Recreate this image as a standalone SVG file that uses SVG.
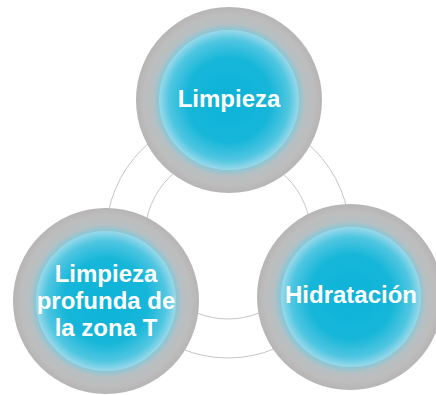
<svg xmlns="http://www.w3.org/2000/svg" width="436" height="395" viewBox="0 0 436 395">
  <defs>
    <radialGradient id="ring" cx="0.5" cy="0.5" r="0.5">
      <stop offset="0" stop-color="#3fbcd8"/>
      <stop offset="0.73" stop-color="#7cc8da"/>
      <stop offset="0.82" stop-color="#b6c0c3"/>
      <stop offset="0.92" stop-color="#bebdbd"/>
      <stop offset="1" stop-color="#b6b4b4"/>
    </radialGradient>
    <radialGradient id="core" cx="0.5" cy="0.5" r="0.5">
      <stop offset="0" stop-color="#0cb3d7"/>
      <stop offset="0.6" stop-color="#16b6d9"/>
      <stop offset="0.86" stop-color="#50c6e1"/>
      <stop offset="1" stop-color="#9ad9ea"/>
    </radialGradient>
  </defs>
  <style>
    .arc { fill: none; stroke: #c6c6c6; stroke-width: 1; }
    .ring { fill: url(#ring); }
    .core { fill: url(#core); }
    .label { font-family: "Liberation Sans", Arial, sans-serif; font-weight: bold; font-size: 24px; fill: #ffffff; text-anchor: middle; }
  </style>
  <rect width="436" height="395" fill="#ffffff"/>
  <g id="connectors">
    <circle class="arc" cx="228" cy="236" r="83"/>
    <circle class="arc" cx="228" cy="236" r="122"/>
  </g>
  <g id="node-limpieza">
    <circle class="ring" cx="229" cy="100" r="93"/>
    <circle class="core" cx="229" cy="100" r="70"/>
    <text class="label" x="229" y="107">Limpieza</text>
  </g>
  <g id="node-zona-t">
    <circle class="ring" cx="106" cy="301" r="93"/>
    <circle class="core" cx="106" cy="301" r="70"/>
    <text class="label" x="106" y="282">Limpieza</text>
    <text class="label" x="106" y="309">profunda de</text>
    <text class="label" x="106" y="336">la zona T</text>
  </g>
  <g id="node-hidratacion">
    <circle class="ring" cx="350" cy="297" r="93"/>
    <circle class="core" cx="351" cy="297" r="70"/>
    <text class="label" x="351" y="303">Hidratación</text>
  </g>
</svg>
